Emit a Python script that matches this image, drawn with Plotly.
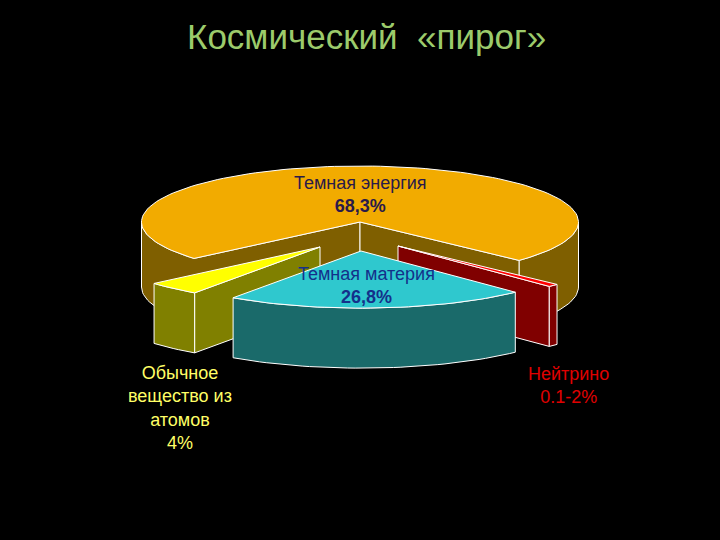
import math
import plotly.graph_objects as go

# Data
SLICE_NAMES = ["Нейтрино", "Темная материя", "Обычное вещество из атомов", "Темная энергия"]
DRAWN_SHARES = [0.8, 21.9, 4.0, 73.3]  # shares of the circle as drawn in the picture
LABEL_VALUES = ["0.1-2%", "26,8%", "4%", "68,3%"]

# Styles
TOP_COLORS = ["#FF0000", "#2FC8CE", "#FFFF00", "#F2AB00"]
SIDE_COLORS = ["#800000", "#1A6A6A", "#808000", "#7F5F00"]
EDGE = "#FFFFFF"
BG = "#000000"
TITLE_COLOR = "#9CCB6B"

# Projection
CX, CY, RX, RY = 360, 222, 218.5, 56
START_ANGLE = 43.3
EXPLODE = [(38, 24, 60, 1.0), (1, 29, 60, 1.02), (-40, 25, 60, 1.0), (0, 0, 65, 1.0)]

fig = go.Figure()


def add_poly(pts, fill):
    fig.add_trace(go.Scatter(
        x=[p[0] for p in pts] + [pts[0][0]],
        y=[p[1] for p in pts] + [pts[0][1]],
        mode="lines", fill="toself", fillcolor=fill,
        line=dict(color=EDGE, width=1), hoverinfo="skip", showlegend=False))


def rim(c, a0, a1, scale):
    n = max(2, int(abs(a1 - a0) / 2) + 1)
    out = []
    for i in range(n + 1):
        a = math.radians(a0 + (a1 - a0) * i / n)
        out.append((c[0] + RX * scale * math.cos(a), c[1] + RY * scale * math.sin(a)))
    return out


def shift(pts, d):
    return [(x, y + d) for x, y in pts]


def outer_face(c, a0, a1, d, scale, fill):
    r = rim(c, a0, a1, scale)
    add_poly(r + shift(r, d)[::-1], fill)


def wall(c, a, d, scale, fill):
    p = rim(c, a, a, scale)[0]
    add_poly([c, p, (p[0], p[1] + d), (c[0], c[1] + d)], fill)


angles = []
a = START_ANGLE
for s in DRAWN_SHARES:
    angles.append((a, a + s * 3.6))
    a += s * 3.6

centers = [(CX + e[0], CY + e[1]) for e in EXPLODE]

# Dark energy (back): the left wall and outer face form one unbroken surface
a0, a1 = angles[3]
c, d, sc = centers[3], EXPLODE[3][2], EXPLODE[3][3]
left_rim = rim(c, 180, a0, sc)
add_poly(left_rim + [c, (c[0], c[1] + d)] + shift(left_rim, d)[::-1], SIDE_COLORS[3])
outer_face(c, 360, a1, d, sc, SIDE_COLORS[3])
wall(c, a1, d, sc, SIDE_COLORS[3])
add_poly([c] + rim(c, a0, a1, sc), TOP_COLORS[3])

# Neutrino
a0, a1 = angles[0]
c, d, sc = centers[0], EXPLODE[0][2], EXPLODE[0][3]
wall(c, a1, d, sc, SIDE_COLORS[0])
outer_face(c, a0, a1, d, sc, SIDE_COLORS[0])
add_poly([c] + rim(c, a0, a1, sc), TOP_COLORS[0])

# Ordinary matter
a0, a1 = angles[2]
c, d, sc = centers[2], EXPLODE[2][2], EXPLODE[2][3]
wall(c, a0, d, sc, SIDE_COLORS[2])
outer_face(c, a0, a1, d, sc, SIDE_COLORS[2])
add_poly([c] + rim(c, a0, a1, sc), TOP_COLORS[2])

# Dark matter (front)
a0, a1 = angles[1]
c, d, sc = centers[1], EXPLODE[1][2], EXPLODE[1][3]
outer_face(c, a0, a1, d, sc, SIDE_COLORS[1])
add_poly([c] + rim(c, a0, a1, sc), TOP_COLORS[1])

FONT = "Liberation Sans, Arial, sans-serif"


def label(x, y, text, color, size=18):
    fig.add_annotation(x=x, y=y, xref="x", yref="y", text=text, showarrow=False,
                       align="center", xanchor="center", yanchor="middle",
                       font=dict(family=FONT, size=size, color=color))


label(360, 194, f"{SLICE_NAMES[3]}<br><b>{LABEL_VALUES[3]}</b>", "#2A1A4A")
label(366, 285, f"{SLICE_NAMES[1]}<br><b>{LABEL_VALUES[1]}</b>", "#14308A")
label(180, 408, f"Обычное<br>вещество из<br>атомов<br>{LABEL_VALUES[2]}", "#FFFF66")
label(568, 385, f"{SLICE_NAMES[0]}<br>{LABEL_VALUES[0]}", "#E00000")
label(366, 36, "Космический  «пирог»", TITLE_COLOR, 35)

fig.update_layout(
    width=720, height=540, autosize=False,
    margin=dict(l=0, r=0, t=0, b=0),
    paper_bgcolor=BG, plot_bgcolor=BG, showlegend=False,
    xaxis=dict(range=[0, 720], visible=False, fixedrange=True),
    yaxis=dict(range=[540, 0], visible=False, fixedrange=True),
)
fig.write_html(
    "out.html",
    config={"displayModeBar": False},
    post_script="document.documentElement.style.background='#000';"
                "document.body.style.margin='0';document.body.style.background='#000';"
                "document.body.style.overflow='hidden';",
)
